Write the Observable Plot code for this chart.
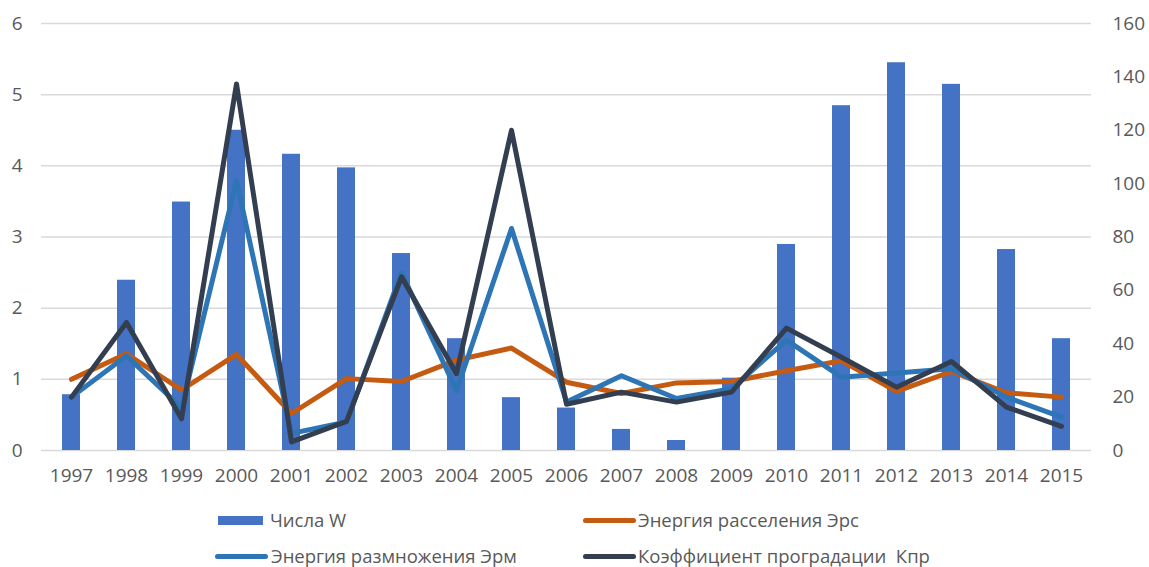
<!DOCTYPE html>
<html>
<head>
<meta charset="utf-8">
<script src="https://cdn.jsdelivr.net/npm/d3@7"></script>
<script src="https://cdn.jsdelivr.net/npm/@observablehq/plot@0.6"></script>
<style>
  body { margin: 0; background: #fff; }
  #wrap { position: relative; width: 1149px; height: 567px; overflow: hidden; }
  #legend { position: absolute; left: 0; top: 0; width: 1149px; height: 567px; pointer-events: none;
    font-family: "Open Sans", sans-serif; font-size: 18.5px; color: #595959; }
  .item { position: absolute; display: flex; align-items: center; white-space: pre; line-height: 20px; }
  .sw { display: inline-block; flex: none; }
</style>
</head>
<body>
<div id="wrap"><div id="chart"></div><div id="legend"></div></div>
<script>
const years = ["1997","1998","1999","2000","2001","2002","2003","2004","2005","2006","2007","2008","2009","2010","2011","2012","2013","2014","2015"];
// Числа W (right axis, 0–160)
const wolf = [20.9, 63.8, 93.1, 120, 111, 105.9, 73.8, 41.9, 19.8, 15.9, 7.9, 3.75, 27.1, 77.2, 129.2, 145.3, 137.2, 75.3, 41.9];
// Энергия расселения Эрс (left axis)
const ers = [1.0, 1.36, 0.85, 1.35, 0.52, 1.01, 0.97, 1.27, 1.44, 0.96, 0.80, 0.95, 0.97, 1.12, 1.26, 0.83, 1.11, 0.81, 0.75];
// Энергия размножения Эрм (left axis)
const erm = [0.75, 1.33, 0.6, 3.79, 0.24, 0.40, 2.5, 0.84, 3.12, 0.68, 1.05, 0.73, 0.87, 1.55, 1.03, 1.09, 1.15, 0.75, 0.47];
// Коэффициент проградации Кпр (left axis)
const kpr = [0.75, 1.80, 0.445, 5.15, 0.12, 0.41, 2.44, 1.08, 4.5, 0.65, 0.82, 0.68, 0.82, 1.72, 1.31, 0.89, 1.25, 0.61, 0.34];
const leftTicks = [0, 1, 2, 3, 4, 5, 6];
const rightTicks = [0, 20, 40, 60, 80, 100, 120, 140, 160];
const seriesNames = ["Числа W", "Энергия расселения Эрс", "Энергия размножения Эрм", "Коэффициент проградации  Кпр"];
const colors = ["#4472C4", "#C55A11", "#2E75B6", "#333F50"];

const k = 6 / 160; // right-axis units -> left-axis units
const bars = years.map((y, i) => ({year: y, w: wolf[i]}));
const lines = [];
[ers, erm, kpr].forEach((arr, s) => years.forEach((y, i) => lines.push({year: y, v: arr[i], s: seriesNames[s + 1]})));

const chart = Plot.plot({
  width: 1149,
  height: 495,
  marginTop: 23,
  marginBottom: 45,
  marginLeft: 41,
  marginRight: 58,
  style: {fontFamily: "'Open Sans', sans-serif", fontSize: "19px", color: "#595959", background: "#fff"},
  x: {type: "band", domain: years, paddingInner: 0.67, paddingOuter: 0.335},
  y: {domain: [0, 6]},
  color: {domain: seriesNames.slice(1), range: colors.slice(1)},
  marks: [
    Plot.gridY(leftTicks, {stroke: "#d9d9d9", strokeOpacity: 1, strokeWidth: 1.5}),
    Plot.barY(bars, {x: "year", y: d => d.w * k, fill: colors[0]}),
    Plot.lineY(lines, {x: "year", y: "v", z: "s", stroke: "s", strokeWidth: 5, strokeLinejoin: "round", strokeLinecap: "round"}),
    Plot.axisY(leftTicks, {anchor: "left", tickSize: 0, tickPadding: 19, label: null, tickFormat: d => String(d)}),
    Plot.axisY(rightTicks.map(v => v * k), {anchor: "right", tickSize: 0, tickPadding: 21, label: null, tickFormat: d => String(Math.round(d / k))}),
    Plot.axisX({tickSize: 0, tickPadding: 18, label: null})
  ]
});
document.getElementById("chart").appendChild(chart);

const leg = document.getElementById("legend");
const items = [
  {x: 218, y: 520, sw: "bar", w: 45, gap: 7},
  {x: 583, y: 520, sw: "line", w: 53, gap: 2},
  {x: 215, y: 556, sw: "line", w: 53, gap: 3},
  {x: 583, y: 556, sw: "line", w: 53, gap: 2}
];
items.forEach((it, i) => {
  const d = document.createElement("div");
  d.className = "item";
  d.style.left = it.x + "px";
  d.style.top = (it.y - 10) + "px";
  d.style.height = "20px";
  const s = document.createElement("span");
  s.className = "sw";
  s.style.background = colors[i];
  s.style.width = it.w + "px";
  s.style.marginRight = it.gap + "px";
  if (it.sw === "bar") { s.style.height = "9px"; }
  else { s.style.height = "5px"; s.style.borderRadius = "2.5px"; }
  d.appendChild(s);
  const t = document.createElement("span");
  t.textContent = seriesNames[i];
  d.appendChild(t);
  leg.appendChild(d);
});
</script>
</body>
</html>
